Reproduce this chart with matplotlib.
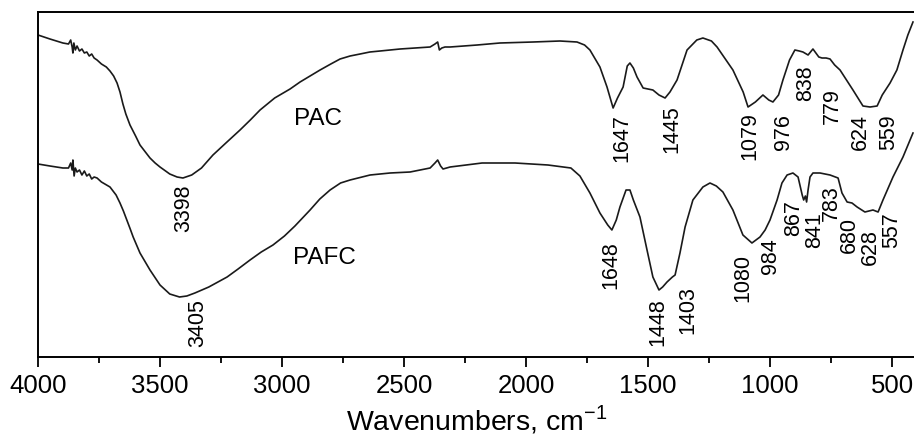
import numpy as np
import matplotlib
matplotlib.use("Agg")
import matplotlib.pyplot as plt
from matplotlib.ticker import MultipleLocator

plt.rcParams['font.family'] = ['Liberation Sans', 'DejaVu Sans']

# PAC spectrum (wavenumber, transmittance a.u.)
pac_wn = [4000, 3951, 3898, 3875, 3866, 3860, 3857, 3853, 3847, 3840, 3830, 3820,
          3810, 3800, 3790, 3780, 3770, 3758, 3740, 3720, 3705, 3690, 3676, 3664,
          3652, 3640, 3623, 3600, 3582, 3560, 3541, 3520, 3500, 3460, 3430, 3406,
          3370, 3330, 3283, 3230, 3172, 3130, 3090, 3030, 2967, 2926, 2885, 2844,
          2800, 2762, 2721, 2680, 2640, 2598, 2516, 2393, 2373, 2362, 2355, 2345,
          2332, 2311, 2200, 2107, 1971, 1861, 1791, 1760, 1738, 1697, 1668, 1643,
          1625, 1602, 1585, 1574, 1560, 1545, 1520, 1480, 1455, 1430, 1410, 1381,
          1340, 1300, 1275, 1240, 1217, 1152, 1110, 1090, 1060, 1029, 1005, 988,
          965, 947, 920, 898, 880, 865, 844, 824, 800, 787, 770, 754,
          735, 713, 660, 619, 590, 561, 540, 508, 480, 455, 435, 414]
pac_t = [322, 318, 314, 313, 317, 310, 304, 314, 307, 311, 306, 308,
         304, 305, 301, 303, 299, 297, 293, 290, 286, 281, 274, 265,
         253, 243, 232, 221, 212, 205, 199, 194, 190, 183, 180, 179,
         182, 189, 202, 214, 227, 237, 247, 259, 268, 275, 281, 287,
         293, 298, 301, 303, 305, 306, 308, 310, 313, 315, 307, 309,
         310, 310, 312, 314, 315, 316, 315, 312, 307, 290, 270, 249,
         259, 270, 291, 294, 289, 280, 269, 267, 262, 259, 265, 277,
         307, 317, 319, 316, 310, 287, 265, 250, 255, 262, 257, 255,
         262, 277, 297, 307, 306, 305, 302, 308, 300, 299, 299, 298,
         292, 287, 267, 251, 250, 251, 262, 274, 287, 307, 322, 335]

# PAFC spectrum
pafc_wn = [4000, 3951, 3898, 3875, 3866, 3860, 3857, 3852, 3847, 3840, 3830, 3820,
           3810, 3800, 3790, 3780, 3770, 3758, 3740, 3705, 3680, 3664, 3650, 3636,
           3622, 3610, 3582, 3541, 3500, 3460, 3420, 3390, 3357, 3300, 3225, 3180,
           3131, 3085, 3037, 2990, 2947, 2885, 2845, 2803, 2760, 2721, 2639, 2557,
           2475, 2393, 2373, 2362, 2350, 2340, 2311, 2180, 2045, 1910, 1816, 1779,
           1738, 1697, 1665, 1648, 1630, 1615, 1590, 1574, 1560, 1533, 1504, 1480,
           1455, 1440, 1422, 1400, 1389, 1369, 1348, 1316, 1275, 1246, 1220, 1193,
           1152, 1111, 1074, 1041, 1020, 1000, 971, 951, 930, 906, 885, 868,
           862, 855, 850, 844, 836, 824, 795, 754, 721, 705, 684, 664,
           643, 611, 578, 557, 537, 496, 455, 426, 414]
pafc_t = [193, 191, 189, 189, 194, 187, 197, 181, 189, 185, 187, 182,
          186, 181, 183, 178, 180, 179, 175, 170, 162, 154, 146, 137,
          128, 120, 104, 87, 72, 63, 60, 61, 64, 70, 80, 88,
          97, 105, 112, 121, 131, 147, 158, 167, 174, 177, 182, 184,
          185, 189, 194, 197, 191, 188, 190, 194, 194, 192, 189, 181,
          164, 144, 132, 127, 137, 150, 167, 167, 157, 140, 107, 80,
          67, 70, 75, 80, 82, 104, 130, 157, 170, 174, 171, 165,
          147, 122, 114, 120, 127, 137, 157, 174, 182, 184, 180, 162,
          157, 161, 155, 167, 180, 184, 184, 182, 179, 164, 155, 154,
          150, 145, 147, 145, 157, 180, 200, 217, 224]

# peak labels: text, x (cm-1), y
peak_text = ["3398", "1647", "1445", "1079", "976", "838", "779", "624", "559",
             "3405", "1648", "1448", "1403", "1080", "984", "867", "841", "783",
             "680", "628", "557"]
peak_x = [3402, 1607, 1402, 1082, 943, 852, 746, 631, 512,
          3344, 1652, 1459, 1336, 1111, 996, 902, 816, 750,
          676, 590, 500]
peak_y = [149, 219, 228, 221, 225, 274, 251, 225, 225,
          34, 92, 35, 47, 79, 101, 139, 127, 154,
          122, 110, 127]

fig = plt.figure(figsize=(9.14, 4.41), dpi=100)
ax = fig.add_axes([38/914, 84/441, 878.4/914, 345/441])

ax.plot(pac_wn, pac_t, color='#1a1a1a', lw=1.2)
ax.plot(pafc_wn, pafc_t, color='#1a1a1a', lw=1.2)

for t, x, y in zip(peak_text, peak_x, peak_y):
    ax.text(x, y, t, rotation=90, ha='center', va='center', fontsize=15.5)

ax.text(2951, 238, "PAC", ha='left', va='center', fontsize=17.5)
ax.text(2955, 99, "PAFC", ha='left', va='center', fontsize=17.5)

ax.set_xlim(4000, 400)
ax.set_ylim(0, 345)
ax.xaxis.set_major_locator(MultipleLocator(500))
ax.xaxis.set_minor_locator(MultipleLocator(250))
ax.tick_params(axis='x', which='major', length=7, width=1.3, labelsize=18.5, pad=5)
ax.tick_params(axis='x', which='minor', length=4, width=1.3)
ax.set_yticks([])
for s in ax.spines.values():
    s.set_linewidth(1.4)
ax.set_xlabel(r"Wavenumbers, cm$^{\mathregular{-1}}$", fontsize=20.5, labelpad=4)

fig.savefig("out.png", dpi=100)
